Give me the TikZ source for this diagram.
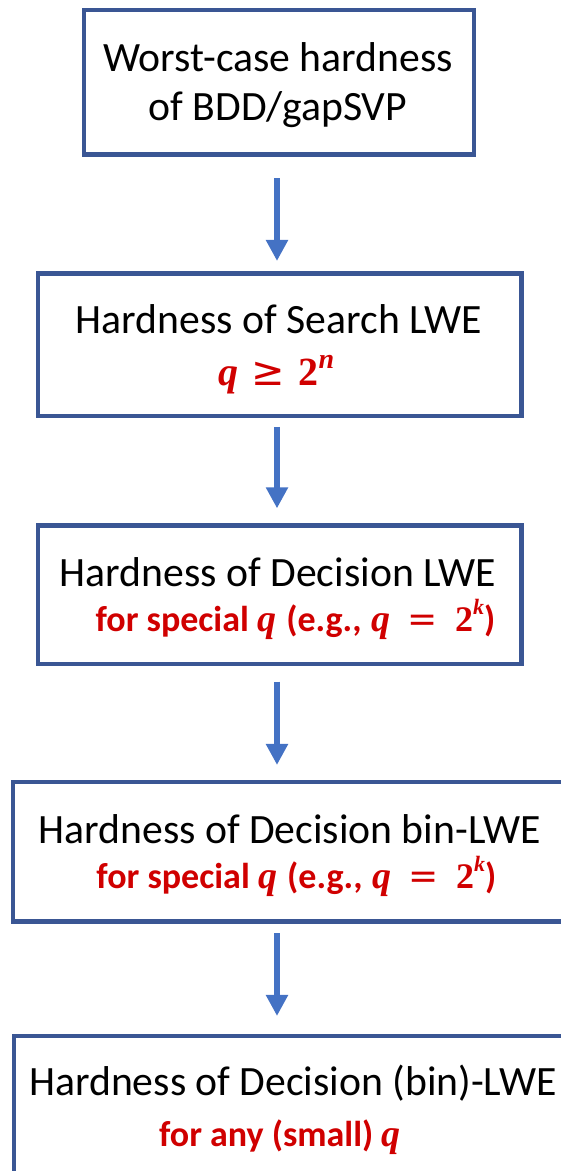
\documentclass[tikz,border=0pt]{standalone}
\usepackage{fontspec}
\setmainfont{Carlito}
\newfontfamily\mathface{Liberation Serif}
\newfontfamily\relface{DejaVu Sans}
\usetikzlibrary{arrows.meta}
\definecolor{frame}{HTML}{3A5694}
\definecolor{flow}{HTML}{4472C4}
\definecolor{note}{HTML}{D00000}
% math-like pieces: bold italic variable, bold digit, relation sign, raised exponent
\newcommand{\mvar}[2]{{\fontsize{#1}{#1}\selectfont\mathface\bfseries\itshape #2}}
\newcommand{\mdig}[2]{{\fontsize{#1}{#1}\selectfont\mathface\bfseries #2}}
\newcommand{\mrel}[2]{{\fontsize{#1}{#1}\selectfont\relface\mdseries #2}}
\newcommand{\mexp}[3]{\raisebox{#1}{\fontsize{#2}{#2}\selectfont\mathface\bfseries\itshape #3}}
\begin{document}
\begin{tikzpicture}[x=1pt,y=-1pt,
  stage/.style={draw=frame, line width=4.5pt, inner sep=0pt, outer sep=2.25pt},
  mainline/.style={font=\fontsize{41.7}{50}\selectfont, inner sep=0pt, anchor=base},
  subline/.style={font=\fontsize{36}{44}\selectfont\bfseries, text=note, inner sep=0pt, anchor=base},
  flowarrow/.style={draw=flow, line width=6pt, -{Triangle[width=21pt,length=21pt]}}]
\useasboundingbox (0,0) rectangle (561,1171);

% the five stages of the reduction chain
\node[stage, minimum width=390pt, minimum height=144.3pt] (b1) at (279,82.15) {};
\node[stage, minimum width=483.5pt, minimum height=142.1pt] (b2) at (279.75,344.75) {};
\node[stage, minimum width=483.5pt, minimum height=138.9pt] (b3) at (279.75,594.75) {};
\node[stage, minimum width=607pt, minimum height=139.7pt] (b4) at (316.4,851.85) {};
\node[stage, minimum width=607pt, minimum height=214pt] (b5) at (317.5,1143) {};

% labels
\node[mainline] (t1a) at (278.2,71.7) {Worst-case hardness};
\node[mainline] (t1b) at (278,120.7) {of BDD/gapSVP};

\node[mainline] (t2a) at (279,333.3) {Hardness of Search LWE};
\node[subline] (t2b) at (276.4,385)
  {\mvar{40}{q}\hspace{5pt} \mrel{40}{≥}\hspace{5pt} \mdig{40}{2}\mexp{17pt}{28}{n}};

\node[mainline] (t3a) at (278,586) {Hardness of Decision LWE};
\node[subline] (t3b) at (295.5,631)
  {for special \mvar{38}{q}\hspace{2pt} (e.g.,\hspace{2pt} \mvar{38}{q}\hspace{9pt} \mrel{36}{=}\hspace{9pt} \mdig{36}{2}\mexp{17pt}{22}{k})};

\node[mainline] (t4a) at (289.7,843.3) {Hardness of Decision bin-LWE};
\node[subline] (t4b) at (296.4,888.3)
  {for special \mvar{38}{q}\hspace{2pt} (e.g.,\hspace{2pt} \mvar{38}{q}\hspace{9pt} \mrel{36}{=}\hspace{9pt} \mdig{36}{2}\mexp{17pt}{22}{k})};

\node[mainline] (t5a) at (293,1095) {Hardness of Decision (bin)-LWE};
\node[subline] (t5b) at (279.8,1146.7) {for any (small) \mvar{38}{q}};

% reductions between consecutive stages
\coordinate (axis) at (277,0);
\draw[flowarrow, shorten <=21.8pt, shorten >=10.5pt] (b1.south -| axis) -- (b2.north -| axis);
\draw[flowarrow, shorten <=8.7pt, shorten >=14.7pt] (b2.south -| axis) -- (b3.north -| axis);
\draw[flowarrow, shorten <=15.2pt, shorten >=14.8pt] (b3.south -| axis) -- (b4.north -| axis);
\draw[flowarrow, shorten <=9.3pt, shorten >=17.8pt] (b4.south -| axis) -- (b5.north -| axis);
\end{tikzpicture}
\end{document}
